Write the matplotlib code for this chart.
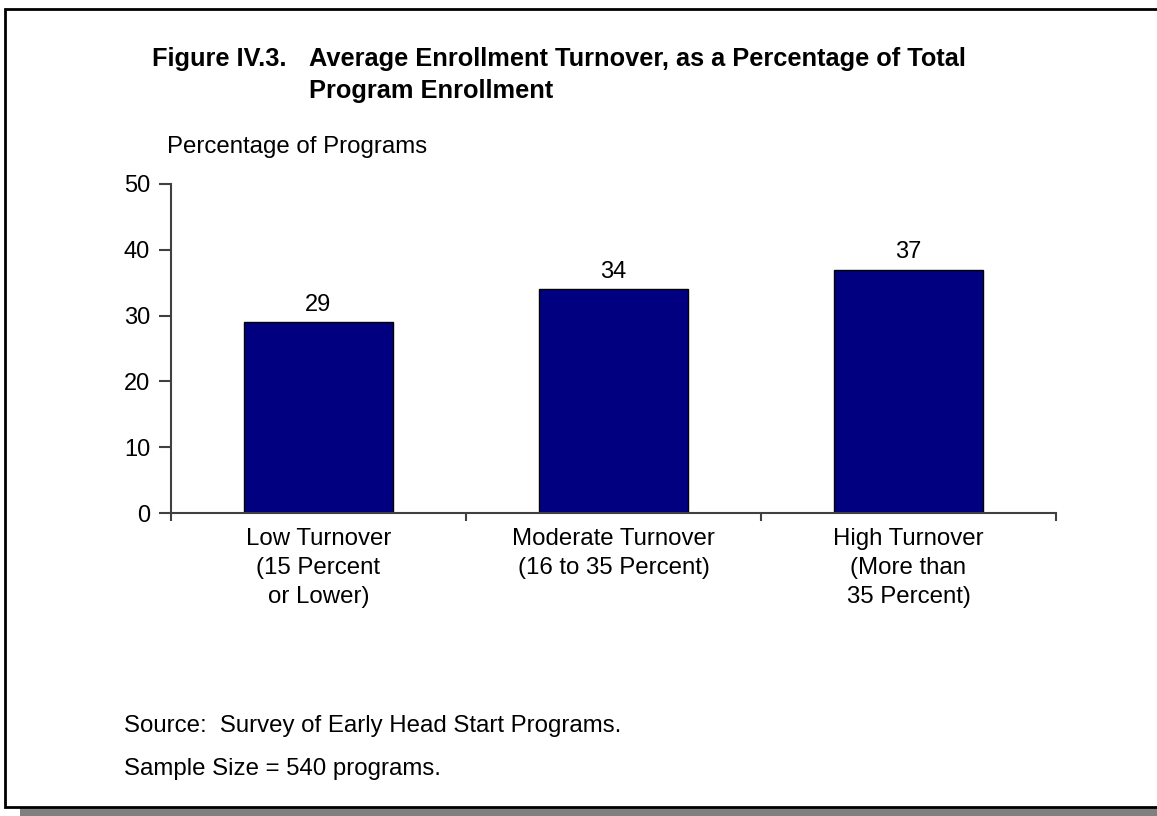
import matplotlib
matplotlib.use("Agg")
import matplotlib.pyplot as plt
from matplotlib.patches import Rectangle

plt.rcParams['font.family'] = ['Liberation Sans', 'DejaVu Sans']

# data
categories = ['Low Turnover\n(15 Percent\nor Lower)',
              'Moderate Turnover\n(16 to 35 Percent)',
              'High Turnover\n(More than\n35 Percent)']
values = [29, 34, 37]
yticks = [0, 10, 20, 30, 40, 50]

W, H = 1157, 816
fig = plt.figure(figsize=(W / 100, H / 100), dpi=100)

def fx(x):
    return x / W

def fy(y):
    return 1 - y / H

# frame box with shadow
fig.patches.append(Rectangle((fx(20), fy(816)), fx(1200), (816 - 807) / H,
                             transform=fig.transFigure, facecolor='#808080',
                             edgecolor='none', zorder=0))
fig.patches.append(Rectangle((fx(5), fy(807)), fx(1200), (807 - 9) / H,
                             transform=fig.transFigure, facecolor='white',
                             edgecolor='black', linewidth=2, zorder=1))

ax = fig.add_axes([fx(171), fy(513), fx(1056) - fx(171), (513 - 184) / H])
ax.set_zorder(2)
ax.patch.set_alpha(0)

x = list(range(len(values)))
bars = ax.bar(x, values, width=0.505, color='#000080', edgecolor='black', linewidth=1)
for xi, v in zip(x, values):
    ax.annotate(str(v), (xi, v), xytext=(0, 4.5), textcoords='offset points',
                ha='center', va='bottom', fontsize=17)

ax.set_xlim(-0.5, 2.5)
ax.set_ylim(0, 50)
ax.set_yticks(yticks)
ax.set_xticks(x)
ax.set_xticklabels(categories, fontsize=17.25, linespacing=1.4)
ax.set_xticks([-0.5, 0.5, 1.5, 2.5], minor=True)
ax.tick_params(axis='x', which='major', length=0, pad=11)
ax.tick_params(axis='x', which='minor', length=6, width=1.5, color='#404040', direction='out')
ax.tick_params(axis='y', length=9, width=1.5, color='#404040', labelsize=17, pad=6)

for s in ['top', 'right']:
    ax.spines[s].set_visible(False)
for s in ['left', 'bottom']:
    ax.spines[s].set_color('#404040')
    ax.spines[s].set_linewidth(1.5)

# texts
fig.text(fx(152), fy(66), 'Figure IV.3.', fontsize=18.3, fontweight='bold', va='baseline')
fig.text(fx(309), fy(66), 'Average Enrollment Turnover, as a Percentage of Total',
         fontsize=18.3, fontweight='bold', va='baseline')
fig.text(fx(309), fy(98), 'Program Enrollment', fontsize=18.3, fontweight='bold', va='baseline')
fig.text(fx(167), fy(153), 'Percentage of Programs', fontsize=17.25, va='baseline')
fig.text(fx(124), fy(732), 'Source:  Survey of Early Head Start Programs.', fontsize=17.25, va='baseline')
fig.text(fx(124), fy(775), 'Sample Size = 540 programs.', fontsize=17.25, va='baseline')

fig.savefig('out.png', dpi=100)
